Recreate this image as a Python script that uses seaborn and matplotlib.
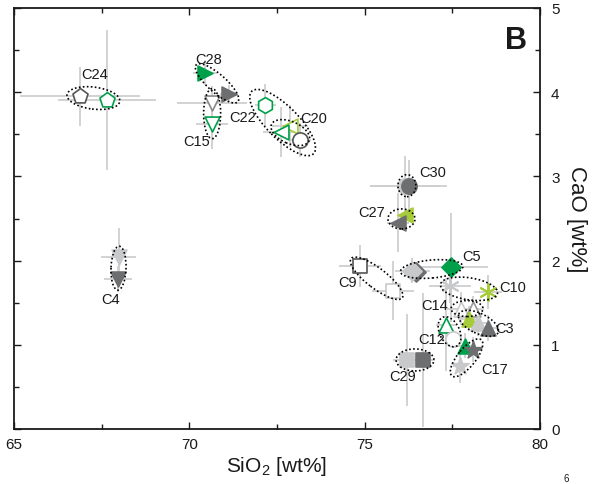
import numpy as np
import pandas as pd
import seaborn as sns
import matplotlib
matplotlib.use("Agg")
import matplotlib.pyplot as plt
from matplotlib.patches import Ellipse
from matplotlib.transforms import IdentityTransform

# ---------------- data ----------------
sample = ["C24", "C24", "C28", "C28", "C15", "C15", "C22", "C20", "C20", "C20",
          "C30", "C30", "C27", "C27", "C5", "C5", "C5", "C9", "C9", "C10", "C10",
          "C14", "C14", "C3", "C3", "C3", "C12", "C12", "C17", "C17", "C17",
          "C29", "C29", "C4", "C4"]
sio2 = [66.88, 67.65, 70.45, 71.13, 70.65, 70.65, 72.16, 72.87, 72.61, 73.16,
        76.15, 76.26, 76.15, 75.95, 76.45, 76.36, 77.46, 74.87, 75.81, 77.43, 78.52,
        77.75, 78.09, 77.97, 78.23, 78.52, 77.32, 77.52, 77.86, 78.09, 77.72,
        76.21, 76.66, 67.99, 67.97]
cao = [3.95, 3.91, 4.23, 3.98, 3.87, 3.62, 3.85, 3.60, 3.53, 3.43,
       2.89, 2.89, 2.54, 2.45, 1.87, 1.88, 1.92, 1.94, 1.64, 1.70, 1.63,
       1.43, 1.43, 1.31, 1.26, 1.20, 1.24, 1.07, 0.99, 0.94, 0.75,
       0.82, 0.82, 2.04, 1.78]
sio2_err = [1.70, 1.40, 0.35, 0.25, 1.00, 0.45, 0.30, 0.50, 0.50, 0.30,
            1.00, 1.10, 0.20, 0.30, 0.30, 0.50, 1.05, 0.60, 0.60, 0.60, 0.40,
            0.40, 0.30, 0.30, 0.30, 0.30, 0.30, 0.20, 0.25, 0.25, 0.20,
            0.40, 0.35, 0.50, 0.40]
cao_err = [0.35, 0.83, 0.15, 0.10, 0.20, 0.30, 0.25, 0.25, 0.30, 0.20,
           0.35, 0.30, 0.15, 0.35, 0.10, 0.15, 0.65, 0.25, 0.35, 0.20, 0.20,
           0.20, 0.15, 0.15, 0.15, 0.15, 0.55, 0.10, 0.15, 0.15, 0.20,
           0.55, 0.80, 0.35, 0.15]

xticks = [65, 70, 75, 80]
yticks = [0, 1, 2, 3, 4, 5]

# ---------------- styles ----------------
GREEN = "#00a04b"
YG = "#a6cd39"
DG = "#6d6e70"
LG = "#c8c9cb"
EK = "#555555"
W = "white"
# (marker, face, edge)
styles = [("p", W, EK), ("p", W, GREEN),
          (">", GREEN, GREEN), (">", DG, DG),
          ("v", W, "#888888"), ("v", W, GREEN),
          ("h", W, GREEN),
          ("<", W, YG), ("<", W, GREEN), ("o", W, EK),
          ("o", LG, LG), ("o", DG, DG),
          ("<", YG, YG), ("<", DG, DG),
          ("D", DG, DG), ("D", LG, LG), ("D", GREEN, GREEN),
          ("s", W, EK), ("s", W, LG),
          ("ast", LG, LG), ("ast", YG, YG),
          ("^", W, LG), ("^", W, "#999999"),
          ("^", YG, YG), ("^", LG, LG), ("^", DG, DG),
          ("^", W, GREEN), ("o", W, LG),
          ("^", GREEN, GREEN), ("*", DG, DG), ("*", LG, LG),
          ("s", LG, LG), ("s", DG, DG),
          ("v", LG, LG), ("v", DG, DG)]

# label layout (data coords)
label_pos = {"C24": (67.31, 4.22), "C28": (70.55, 4.40), "C15": (70.22, 3.42),
             "C22": (71.53, 3.71), "C20": (73.55, 3.69), "C30": (76.95, 3.05),
             "C27": (75.21, 2.58), "C5": (78.06, 2.05), "C9": (74.50, 1.75),
             "C10": (79.23, 1.69), "C14": (77.00, 1.47), "C12": (76.92, 1.07),
             "C3": (79.00, 1.20), "C17": (78.72, 0.71), "C29": (76.09, 0.63),
             "C4": (67.74, 1.54)}

# ellipses: point indices, extra length (px), minor height (px), angle override
ellipses = [([0, 1], 26, 22, None), ([2, 3], 24, 18, None), ([4, 5], 29, 17, None),
            ([6, 9], 38, 32, None), ([7, 8, 9], 20, 22, None), ([10, 11], 14, 22, None),
            ([12, 13], 20, 20, 0), ([15, 16], 24, 18, None), ([17, 18], 23, 20, None),
            ([19, 20], 19, 22, None), ([21, 22], 20, 16, None), ([23, 25], 22, 20, None),
            ([26, 27], 16, 20, None), ([29, 30], 26, 18, None), ([31, 32], 22, 22, None),
            ([33, 34], 22, 15, None)]

df = pd.DataFrame({"sample": sample, "SiO2": sio2, "CaO": cao,
                   "xerr": sio2_err, "yerr": cao_err})

# ---------------- figure ----------------
sns.set_theme(style="white")
plt.rcParams["font.family"] = ["Liberation Sans", "DejaVu Sans"]
plt.rcParams["mathtext.fontset"] = "custom"
plt.rcParams["mathtext.rm"] = "Liberation Sans"

fig = plt.figure(figsize=(5.99, 4.85), dpi=100)
ax = fig.add_axes([14 / 599, 55 / 485, 526 / 599, 421 / 485])
ax.set_xlim(65, 80)
ax.set_ylim(0, 5)

ax.errorbar(df["SiO2"], df["CaO"], xerr=df["xerr"], yerr=df["yerr"], fmt="none",
            ecolor="#cfcfcf", elinewidth=1.3, capsize=0, zorder=1)

for i, row in df.iterrows():
    m, fc, ec = styles[i]
    if m == "ast":
        sns.scatterplot(x=[row.SiO2], y=[row.CaO], marker=(6, 2, 0), s=150,
                        color=fc, edgecolor=ec, linewidth=1.4, ax=ax, zorder=3)
    else:
        size = {"p": 130, "h": 130, "o": 120, "D": 95, "s": 95, "*": 170}.get(m, 115)
        sns.scatterplot(x=[row.SiO2], y=[row.CaO], marker=m, s=size,
                        color=fc, edgecolor=ec, linewidth=1.2, ax=ax, zorder=3)

# dotted grouping ellipses computed from the data in display space
fig.canvas.draw()
for idx, pad, h, ang in ellipses:
    pts = ax.transData.transform(np.column_stack([df["SiO2"].values[idx], df["CaO"].values[idx]]))
    best = (0, 1, 0.0)
    for a in range(len(pts)):
        for b in range(a + 1, len(pts)):
            d = np.hypot(*(pts[b] - pts[a]))
            if d > best[2]:
                best = (a, b, d)
    a, b, d = best
    center = pts.mean(axis=0)
    vec = pts[b] - pts[a]
    angle = np.degrees(np.arctan2(vec[1], vec[0])) if ang is None else ang
    length = d + pad
    if ang is not None:
        length = abs(vec[0]) + pad
    e = Ellipse(center, width=length, height=h, angle=angle, transform=IdentityTransform(),
                fill=False, edgecolor="black", linewidth=1.2, linestyle=(0, (1, 1.4)), zorder=4)
    fig.add_artist(e)

for name, (lx, ly) in label_pos.items():
    ax.text(lx, ly, name, fontsize=10.5, ha="center", va="center", color="#1a1a1a", zorder=5)

ax.text(0.955, 0.925, "B", transform=ax.transAxes, fontsize=22, fontweight="bold",
        ha="center", va="center", color="#1a1a1a")

# axes styling
for s in ax.spines.values():
    s.set_visible(True)
    s.set_color("#1a1a1a")
    s.set_linewidth(1.3)
ax.set_xticks(xticks)
ax.set_xticks([67.5, 72.5, 77.5], minor=True)
ax.set_yticks(yticks)
ax.set_yticks([0.5, 1.5, 2.5, 3.5, 4.5], minor=True)
ax.tick_params(axis="both", which="both", direction="in", top=True, bottom=True,
               left=True, right=True, labelleft=False, labelright=True,
               color="#1a1a1a", width=1.0, labelsize=11, labelcolor="#1a1a1a")
ax.tick_params(which="major", length=5)
ax.tick_params(which="minor", length=3.5)
ax.tick_params(axis="x", pad=6)
ax.tick_params(axis="y", pad=8)
ax.grid(False)

ax.set_xlabel("SiO$_\\mathregular{2}$ [wt%]", fontsize=15, color="#1a1a1a", labelpad=2)
ax.yaxis.set_label_position("right")
ax.set_ylabel("CaO [wt%]", fontsize=16, rotation=270, color="#1a1a1a", labelpad=20)

fig.text(566 / 599, 1 / 485, "6", fontsize=7, ha="center", va="bottom", color="#1a1a1a")

fig.savefig("out.png", dpi=100)
